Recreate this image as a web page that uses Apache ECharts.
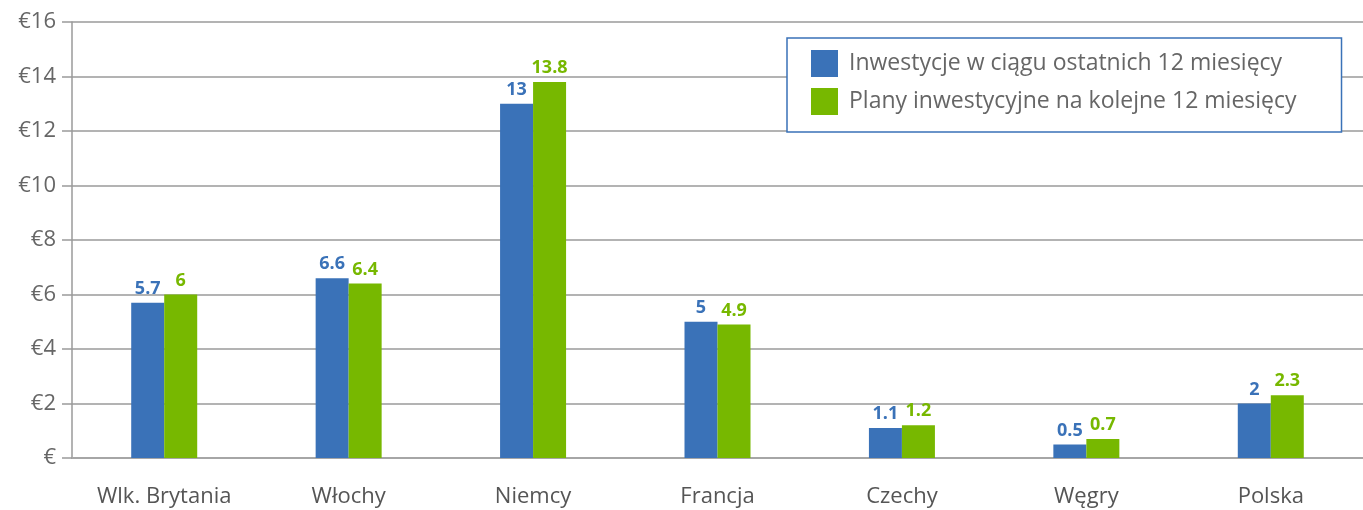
<!DOCTYPE html>
<html><head><meta charset="utf-8">
<script src="https://cdn.jsdelivr.net/npm/echarts@6/dist/echarts.min.js"></script>
<style>html,body{margin:0;padding:0;background:#fff}#c{width:1363px;height:510px}</style>
</head><body><div id="c"></div>
<script>
const categories = ['Wlk. Brytania','Włochy','Niemcy','Francja','Czechy','Węgry','Polska'];
const seriesNames = ['Inwestycje w ciągu ostatnich 12 miesięcy','Plany inwestycyjne na kolejne 12 miesięcy'];
const lastYear = [5.7, 6.6, 13, 5, 1.1, 0.5, 2];
const nextYear = [6, 6.4, 13.8, 4.9, 1.2, 0.7, 2.3];
const colors = ['#3a72b8', '#77b800'];
const FONT = 'Open Sans';

const chart = echarts.init(document.getElementById('c'), null, {renderer:'canvas'});
function mk(i, data){
  return {
    name: seriesNames[i], type:'bar', data: data, barWidth: 33, barGap: '0%',
    itemStyle:{color: colors[i]},
    label:{show:true, position:'top', distance:5, color: colors[i], fontWeight:'bold', fontSize:18, fontFamily: FONT},
    emphasis:{disabled:true}
  };
}
chart.setOption({
  animation:false,
  grid:{left:72, right:0, top:22, bottom:52, containLabel:false},
  legend:{
    orient:'vertical', left:787, top:38,
    padding:[12, 45, 17, 24], itemGap:11, itemWidth:27, itemHeight:27,
    borderColor:'#3a72b8', borderWidth:1.5, backgroundColor:'#fff',
    textStyle:{fontSize:23, color:'#666', fontFamily: FONT, padding:[4,0,0,6]},
    icon:'rect',
    data: seriesNames
  },
  xAxis:{
    type:'category', data: categories,
    axisLine:{show:true, lineStyle:{color:'#a6a6a6', width:2}},
    axisTick:{show:false},
    axisLabel:{color:'#555', fontSize:22, fontFamily: FONT, margin:28}
  },
  yAxis:{
    type:'value', min:0, max:16, interval:2,
    axisLine:{show:true, lineStyle:{color:'#9a9a9a', width:1.5}},
    axisTick:{show:true, length:10, inside:false, lineStyle:{color:'#9a9a9a', width:1.5}},
    splitLine:{show:true, lineStyle:{color:'#9a9a9a', width:1.5}},
    axisLabel:{color:'#666', fontSize:22, fontFamily: FONT, margin:16,
      formatter: v => v === 0 ? '€' : '€' + v}
  },
  series:[mk(0,lastYear), mk(1,nextYear)]
});
</script></body></html>
